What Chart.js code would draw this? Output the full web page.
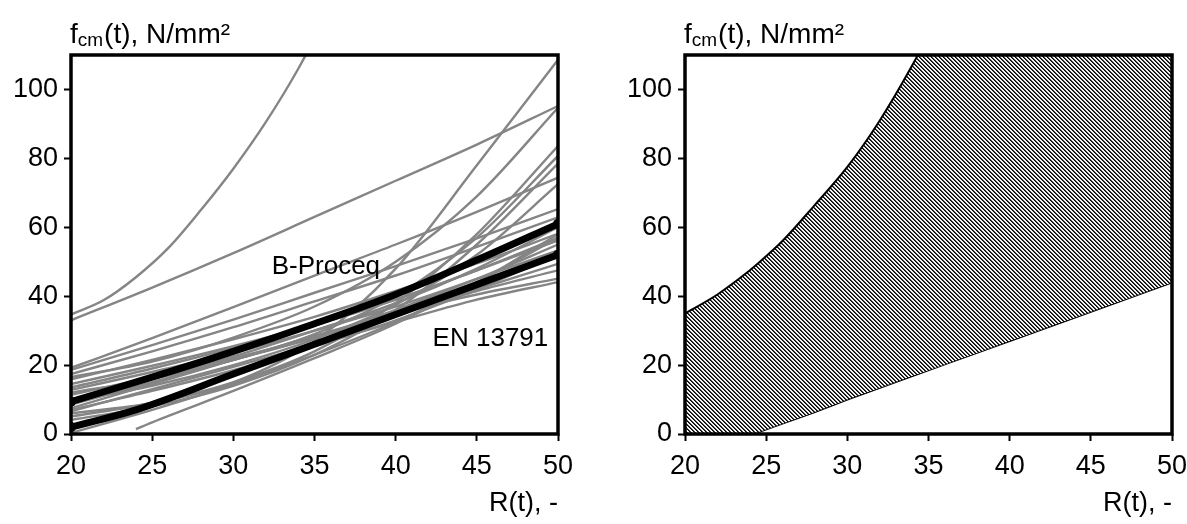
<!DOCTYPE html>
<html>
<head>
<meta charset="utf-8">
<script src="https://cdn.jsdelivr.net/npm/chart.js@4.4.1/dist/chart.umd.min.js"></script>
<style>
    html, body { margin: 0; padding: 0; background: #fff; overflow: hidden; }
    #left { position: absolute; left: 0; top: 0; }
    #right { position: absolute; left: 614px; top: 0; }
</style>
</head>
<body>
<canvas id="left" width="590" height="524"></canvas>
<canvas id="right" width="590" height="524"></canvas>
<script>
// rebound number R(t) on x, compressive strength f_cm(t) on y
const xTicks = [20, 25, 30, 35, 40, 45, 50];
const yTicks = [0, 20, 40, 60, 80, 100];

const rx = [20, 25, 30, 35, 40, 45, 50];

// individual calibration curves (grey), read at rx
const grayCurves = [
    [33, 42.5, 52.5, 63, 73.5, 84, 95.2],
    [19.2, 27.8, 36.8, 46, 55, 64.5, 74.4],
    [18.6, 25.8, 33.2, 41, 48.7, 56.8, 65.3],
    [17.4, 24, 31, 38.5, 46, 54.3, 62.9],
    [15.9, 21.5, 27.5, 34, 41.5, 49.5, 58.1],
    [14.5, 19.8, 25.5, 31.8, 39, 47.5, 56.2],
    [12.8, 18, 23.5, 30, 37, 45, 53.3],
    [11.4, 16.5, 22, 28, 35, 42, 49.4],
    [8.5, 15, 21.5, 28, 34.5, 41.5, 47.5],
    [7.5, 14.5, 21.5, 28.5, 35, 40.5, 45.1],
    [6.6, 13, 19.5, 26, 32.5, 39, 44.1],
    [5.1, 9, 15, 24, 38, 58, 83.6],
    [4.1, 8, 14, 23, 36, 55, 78.5],
    [0.3, 7, 14.5, 23, 32.5, 44, 57],
    [10, 16, 22.5, 30, 38, 48, 60],
    [9, 15, 21.5, 28, 36, 45, 55],
    [13.5, 19, 25, 31.5, 39, 47.5, 57],
    [7, 12.5, 18.5, 25.5, 33, 42, 52],
    [16.5, 21, 28, 37, 50, 69, 94.7],
    [12, 16, 21.5, 29, 40, 57, 80.7],
    [9.5, 14, 20, 27.5, 37.5, 52, 72.5],
    [6, 9, 15, 27, 48, 78, 108.6]
];

// curves that do not follow the rx grid
const steepX = [20, 22, 24, 26, 28, 30, 32, 34, 36];
const steepY = [34.7, 38.8, 45.5, 54, 65, 77, 90.5, 106, 124];
const lateX = [24, 25, 30, 35, 40, 45, 50];
const lateY = [1.4, 3.4, 12.5, 22, 32, 44, 58];

// reference curves (black)
const proceqX = [20, 25, 30, 35, 40, 45, 50];
const proceqY = [9.4, 16.5, 24, 32, 40.5, 50.5, 61];
const enX = [20, 24, 30, 35, 40, 45, 50];
const enY = [2, 7, 17.4, 26.05, 34.7, 43.35, 52];

// scatter band (right chart)
const bandX = [20, 22, 24, 24.2, 26, 28, 30, 32, 34, 36, 40, 45, 50];
const bandUpper = [35, 40.5, 47.5, 48.3, 56, 66.5, 77.5, 91, 107, 125, 160, 200, 240];
const bandLower = [0, 0, 0, 0, 3, 6.4, 10, 13.4, 16.8, 20.2, 27, 35.5, 44];

const pts = (xs, ys) => xs.map((x, i) => ({ x: x, y: ys[i] }));

const FONT = "'Liberation Sans', Arial, sans-serif";
Chart.defaults.font.family = FONT;
Chart.defaults.font.size = 27;
Chart.defaults.color = '#000';

// frame round the plot, y-axis title with subscript, curve labels
const decor = {
    id: 'decor',
    afterDatasetsDraw(chart, args, opts) {
        const { ctx, chartArea: a, scales } = chart;
        ctx.save();
        ctx.strokeStyle = '#000';
        ctx.lineWidth = 3.5;
        ctx.strokeRect(a.left, a.top, a.right - a.left, a.bottom - a.top);

        ctx.fillStyle = '#000';
        ctx.textBaseline = 'alphabetic';
        ctx.textAlign = 'left';
        let x = a.left - 1;
        const y = a.top - 12;
        ctx.font = '28px ' + FONT;
        ctx.fillText('f', x, y);
        x += ctx.measureText('f').width;
        ctx.font = '19px ' + FONT;
        ctx.fillText('cm', x, y + 3);
        x += ctx.measureText('cm').width + 1;
        ctx.font = '28px ' + FONT;
        ctx.fillText('(t), N/mm²', x, y);

        (opts.labels || []).forEach(l => {
            ctx.font = '26px ' + FONT;
            ctx.textAlign = l.align;
            ctx.textBaseline = 'middle';
            ctx.fillText(l.text, scales.x.getPixelForValue(l.x), scales.y.getPixelForValue(l.y));
        });
        ctx.restore();
    }
};

function axes() {
    const grid = { drawOnChartArea: false, tickLength: 7, tickWidth: 2, tickColor: '#000' };
    return {
        x: {
            type: 'linear', min: 20, max: 50,
            afterBuildTicks: s => { s.ticks = xTicks.map(v => ({ value: v })); },
            afterFit: s => { s.height = 90; },
            border: { display: false },
            grid: grid,
            ticks: { color: '#000', padding: 9, maxRotation: 0 },
            title: { display: true, text: 'R(t), -', align: 'end', color: '#000', padding: { top: 0, bottom: 4 } }
        },
        y: {
            type: 'linear', min: 0, max: 110,
            afterBuildTicks: s => { s.ticks = yTicks.map(v => ({ value: v })); },
            afterFit: s => { s.width = 71; },
            border: { display: false },
            grid: grid,
            ticks: { color: '#000', padding: 6 }
        }
    };
}

const grey = (data) => ({
    data: data,
    borderColor: '#858585',
    borderWidth: 2.4,
    pointRadius: 0,
    tension: 0.4,
    cubicInterpolationMode: 'monotone',
    fill: false,
    order: 2
});

const thick = (data) => ({
    data: data,
    borderColor: '#000',
    borderWidth: 7,
    borderCapStyle: 'round',
    pointRadius: [5, 0, 0, 0, 0, 0, 5],
    pointBackgroundColor: '#000',
    pointBorderWidth: 0,
    tension: 0.4,
    cubicInterpolationMode: 'monotone',
    fill: false,
    order: 1
});

const leftSets = grayCurves.map(ys => grey(pts(rx, ys)));
leftSets.push(grey(pts(steepX, steepY)));
leftSets.push(grey(pts(lateX, lateY)));
leftSets.push(thick(pts(proceqX, proceqY)));
leftSets.push(thick(pts(enX, enY)));

new Chart(document.getElementById('left'), {
    type: 'line',
    data: { datasets: leftSets },
    options: {
        responsive: false,
        animation: false,
        layout: { padding: { left: 0, top: 55, right: 32, bottom: 0 } },
        scales: axes(),
        plugins: {
            legend: { display: false },
            tooltip: { enabled: false },
            decor: {
                labels: [
                    { text: 'B-Proceq', x: 35.7, y: 48.6, align: 'center' },
                    { text: 'EN 13791', x: 49.4, y: 27.6, align: 'right' }
                ]
            }
        }
    },
    plugins: [decor]
});

// diagonal hatching for the band, stripes running top-left to bottom-right
const tile = document.createElement('canvas');
tile.width = 4;
tile.height = 4;
const tg = tile.getContext('2d');
const img = tg.createImageData(4, 4);
const shade = [0, 70, 255, 230];
for (let py = 0; py < 4; py++) {
    for (let px = 0; px < 4; px++) {
        const v = shade[((px - py) % 4 + 4) % 4];
        const k = (py * 4 + px) * 4;
        img.data[k] = img.data[k + 1] = img.data[k + 2] = v;
        img.data[k + 3] = 255;
    }
}
tg.putImageData(img, 0, 0);
const rightCanvas = document.getElementById('right');
const hatch = rightCanvas.getContext('2d').createPattern(tile, 'repeat');

new Chart(rightCanvas, {
    type: 'line',
    data: {
        datasets: [
            {
                data: pts(bandX, bandUpper),
                borderColor: '#000',
                borderWidth: 2,
                pointRadius: 0,
                tension: 0.4,
                cubicInterpolationMode: 'monotone',
                backgroundColor: hatch,
                fill: '+1'
            },
            {
                data: pts(bandX, bandLower),
                borderColor: '#000',
                borderWidth: 2,
                pointRadius: 0,
                tension: 0,
                fill: false
            }
        ]
    },
    options: {
        responsive: false,
        animation: false,
        layout: { padding: { left: 0, top: 55, right: 32, bottom: 0 } },
        scales: axes(),
        plugins: {
            legend: { display: false },
            tooltip: { enabled: false },
            decor: { labels: [] }
        }
    },
    plugins: [decor]
});
</script>
</body>
</html>
